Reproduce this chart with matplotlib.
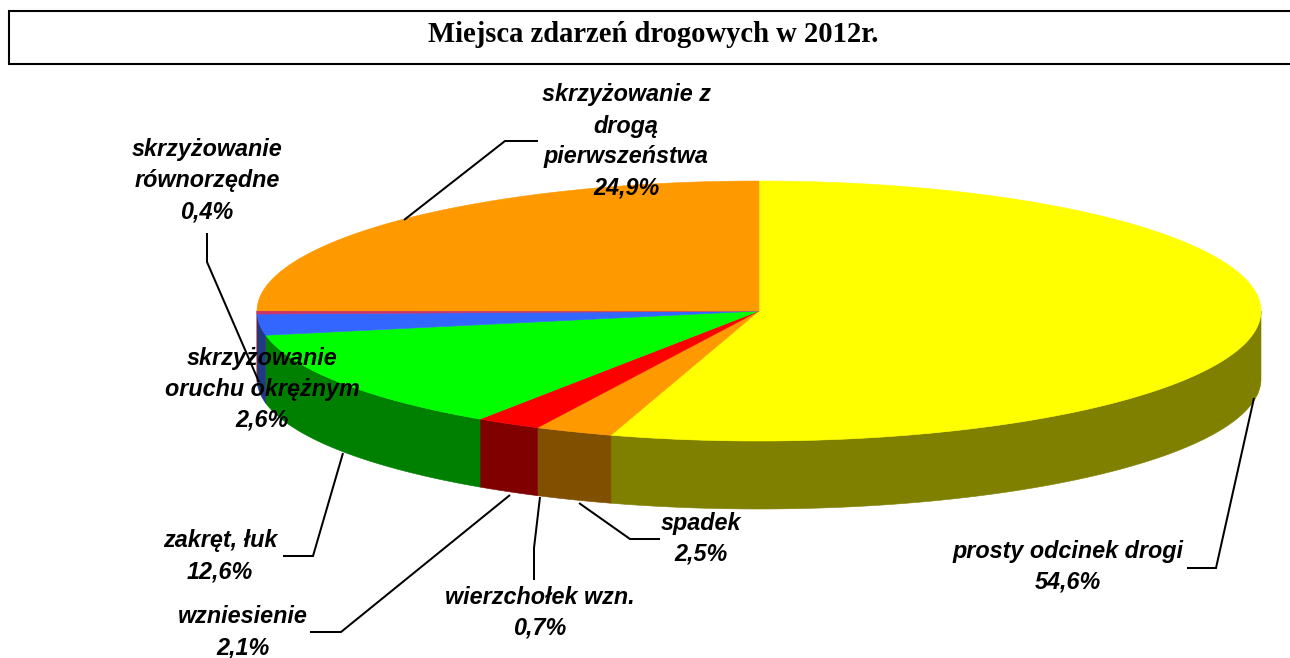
import numpy as np
import matplotlib
matplotlib.use("Agg")
import matplotlib.pyplot as plt
from matplotlib.patches import Polygon, Rectangle

TITLE = "Miejsca zdarzeń drogowych w 2012r."
categories = ["prosty odcinek drogi", "spadek", "wierzchołek wzn.", "wzniesienie",
              "zakręt, łuk", "skrzyżowanie oruchu okrężnym",
              "skrzyżowanie równorzędne", "skrzyżowanie z drogą pierwszeństwa"]
values = [54.6, 2.5, 0.7, 2.1, 12.6, 2.6, 0.4, 24.9]
value_labels = ["54,6%", "2,5%", "0,7%", "2,1%", "12,6%", "2,6%", "0,4%", "24,9%"]
# the 0,7% slice has a label and a leader in the reference but no visible wedge
visible = [True, True, False, True, True, True, True, True]
top_colors = ["#FFFF00", "#FF9900", "#FF9900", "#FF0000", "#00FF00", "#3366FF", "#CC3366", "#FF9900"]
wall_colors = ["#808000", "#804F00", "#804F00", "#800000", "#008000", "#1F3A80", "#661A33", "#804F00"]

# label text lines, centre x, first-line y
label_lines = [
    ["prosty odcinek drogi"], ["spadek"], ["wierzchołek wzn."], ["wzniesienie"],
    ["zakręt, łuk"], ["skrzyżowanie", "oruchu okrężnym"],
    ["skrzyżowanie", "równorzędne"], ["skrzyżowanie z", "drogą", "pierwszeństwa"],
]
label_pos = [(1068, 551.5), (701, 523.5), (540, 597), (243, 616.5),
             (220, 540.5), (262, 358.5), (207, 149.5), (626, 95)]
leaders = [
    [(1254, 398), (1216, 568), (1187, 568)],
    [(579, 503), (630, 539), (660, 539)],
    [(540, 497), (534, 548), (534, 580)],
    [(510, 495), (341, 632), (310, 632)],
    [(343, 453), (313, 556), (283, 556)],
    [],
    [(207, 233), (207, 262), (259, 382)],
    [(404, 220), (505, 141), (538, 141)],
]

CX, CY, RX, RY, DEPTH = 759, 311, 502, 130, 68
W, H = 1290, 658

fig = plt.figure(figsize=(W / 100, H / 100), dpi=100, facecolor="white")
ax = fig.add_axes([0, 0, 1, 1])
ax.set_xlim(0, W)
ax.set_ylim(H, 0)
ax.axis("off")


def rim(a0, a1, dy=0.0):
    """Points along the ellipse; angle in degrees clockwise from 12 o'clock."""
    t = np.radians(np.linspace(a0, a1, max(2, int(abs(a1 - a0) * 4) + 2)))
    return np.column_stack([CX + RX * np.sin(t), CY - RY * np.cos(t) + dy])


total = sum(v for v, s in zip(values, visible) if s)
start = 0.0
wedges = []
for v, s, tc, wc in zip(values, visible, top_colors, wall_colors):
    if not s:
        continue
    end = start + 360.0 * v / total
    wedges.append((start, end, tc, wc))
    start = end

# side walls
for a0, a1, tc, wc in wedges:
    lo, hi = max(a0, 90.0), min(a1, 270.0)
    if hi > lo:
        top = rim(lo, hi)
        bot = rim(lo, hi, DEPTH)[::-1]
        ax.add_patch(Polygon(np.vstack([top, bot]), closed=True, facecolor=wc,
                             edgecolor=wc, lw=0.4, zorder=2))
# top faces
for a0, a1, tc, wc in wedges:
    pts = np.vstack([[[CX, CY]], rim(a0, a1)])
    ax.add_patch(Polygon(pts, closed=True, facecolor=tc, edgecolor=tc, lw=0.4, zorder=3))

# leader lines
for pts in leaders:
    if pts:
        xs, ys = zip(*pts)
        ax.plot(xs, ys, color="black", lw=1.45, zorder=4, solid_joinstyle="miter",
                solid_capstyle="butt")

# data labels
STEP = 31.0
for lines, val, (x, y) in zip(label_lines, value_labels, label_pos):
    for i, line in enumerate(lines + [val]):
        ax.text(x, y + i * STEP, line, ha="center", va="center", family="Liberation Sans",
                weight="bold", style="italic", fontsize=16.8, color="black", zorder=5)

# title box
ax.add_patch(Rectangle((9, 11), W + 20, 52.5, facecolor="white", edgecolor="black",
                       lw=1.5, zorder=1))
ax.text(653, 34, TITLE, ha="center", va="center", family="Liberation Serif",
        weight="bold", fontsize=20.6, color="black", zorder=5)

fig.savefig("out.png", dpi=100, facecolor="white")
